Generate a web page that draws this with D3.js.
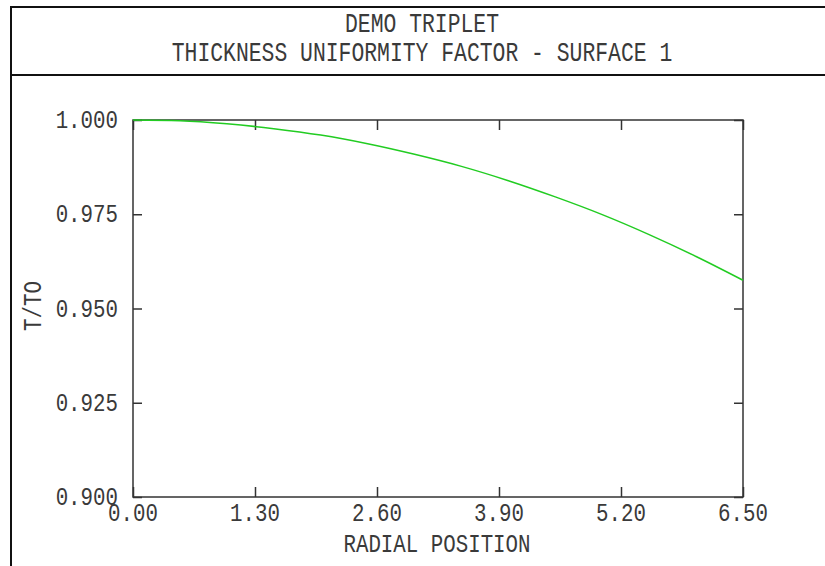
<!DOCTYPE html>
<html>
<head>
<meta charset="utf-8">
<script src="https://cdn.jsdelivr.net/npm/d3@7"></script>
<style>
  body { margin: 0; background: #fff; }
  svg text { font-family: "Liberation Mono", "DejaVu Sans Mono", monospace; fill: #3a3a3a; }
</style>
</head>
<body>
<svg id="viz" width="825" height="566"></svg>
<script>
// radial position vs. thickness ratio T/T0
const RADIUS = [0, 0.5, 1.0, 1.5, 2.0, 2.5, 3.0, 3.5, 4.0, 4.5, 5.0, 5.5, 6.0, 6.5];
const THICKNESS = [1.0000, 0.9998, 0.9990, 0.9977, 0.9960, 0.9937, 0.9909, 0.9877, 0.9839, 0.9796, 0.9749, 0.9696, 0.9638, 0.9575];
const X_TICKS = [0, 1.3, 2.6, 3.9, 5.2, 6.5];
const Y_TICKS = [0.900, 0.925, 0.950, 0.975, 1.000];
const TITLE_LINES = ["DEMO TRIPLET", "THICKNESS UNIFORMITY FACTOR - SURFACE 1"];

const svg = d3.select("#viz");
const plot = { left: 133, right: 743, top: 120, bottom: 497 };
const STRETCH = 1.26; // tall narrow plotter lettering

const x = d3.scaleLinear().domain([0, 6.5]).range([plot.left, plot.right]);
const y = d3.scaleLinear().domain([0.9, 1.0]).range([plot.bottom, plot.top]);

function label(px, py, str, anchor, rotate, size = 20.8) {
  return svg.append("text")
    .attr("transform", `translate(${px},${py})` + (rotate ? ` rotate(${rotate})` : "") + ` scale(1,${STRETCH})`)
    .attr("text-anchor", anchor)
    .attr("font-size", size)
    .text(str);
}

// page frame
svg.append("line").attr("x1", 11).attr("x2", 825).attr("y1", 7).attr("y2", 7)
  .attr("stroke", "#111").attr("stroke-width", 2);
svg.append("line").attr("x1", 11).attr("x2", 825).attr("y1", 75).attr("y2", 75)
  .attr("stroke", "#111").attr("stroke-width", 2);
svg.append("line").attr("x1", 11).attr("x2", 11).attr("y1", 6).attr("y2", 566)
  .attr("stroke", "#111").attr("stroke-width", 2);

TITLE_LINES.forEach((s, i) => label(422, 32 + i * 29, s, "middle", 0, 21.4));

// axes box
svg.append("rect")
  .attr("x", plot.left).attr("y", plot.top)
  .attr("width", plot.right - plot.left).attr("height", plot.bottom - plot.top)
  .attr("fill", "none").attr("stroke", "#333").attr("stroke-width", 1.5);

const xAxisBottom = d3.axisBottom(x).tickValues(X_TICKS).tickSize(-10).tickFormat("");
const xAxisTop = d3.axisTop(x).tickValues(X_TICKS).tickSize(-10).tickFormat("");
const yAxisLeft = d3.axisLeft(y).tickValues(Y_TICKS).tickSize(-9).tickFormat("");
const yAxisRight = d3.axisRight(y).tickValues(Y_TICKS).tickSize(-9).tickFormat("");

[[xAxisBottom, `translate(0,${plot.bottom})`], [xAxisTop, `translate(0,${plot.top})`],
 [yAxisLeft, `translate(${plot.left},0)`], [yAxisRight, `translate(${plot.right},0)`]]
  .forEach(([ax, tr]) => {
    const g = svg.append("g").attr("transform", tr).call(ax);
    g.select(".domain").remove();
    g.selectAll(".tick line").attr("stroke", "#333").attr("stroke-width", 1.5);
  });

// tick labels
X_TICKS.forEach(v => label(x(v), 521, v.toFixed(2), "middle"));
Y_TICKS.forEach(v => label(118, y(v) + 8, v.toFixed(3), "end"));

// axis titles
label(437, 552, "RADIAL POSITION", "middle");
label(41, 306, "T/TO", "middle", -90);

// curve
svg.append("path")
  .datum(RADIUS.map((r, i) => [r, THICKNESS[i]]))
  .attr("fill", "none")
  .attr("stroke", "#22cc22")
  .attr("stroke-width", 1.5)
  .attr("d", d3.line().x(d => x(d[0])).y(d => y(d[1])).curve(d3.curveMonotoneX));
</script>
</body>
</html>
